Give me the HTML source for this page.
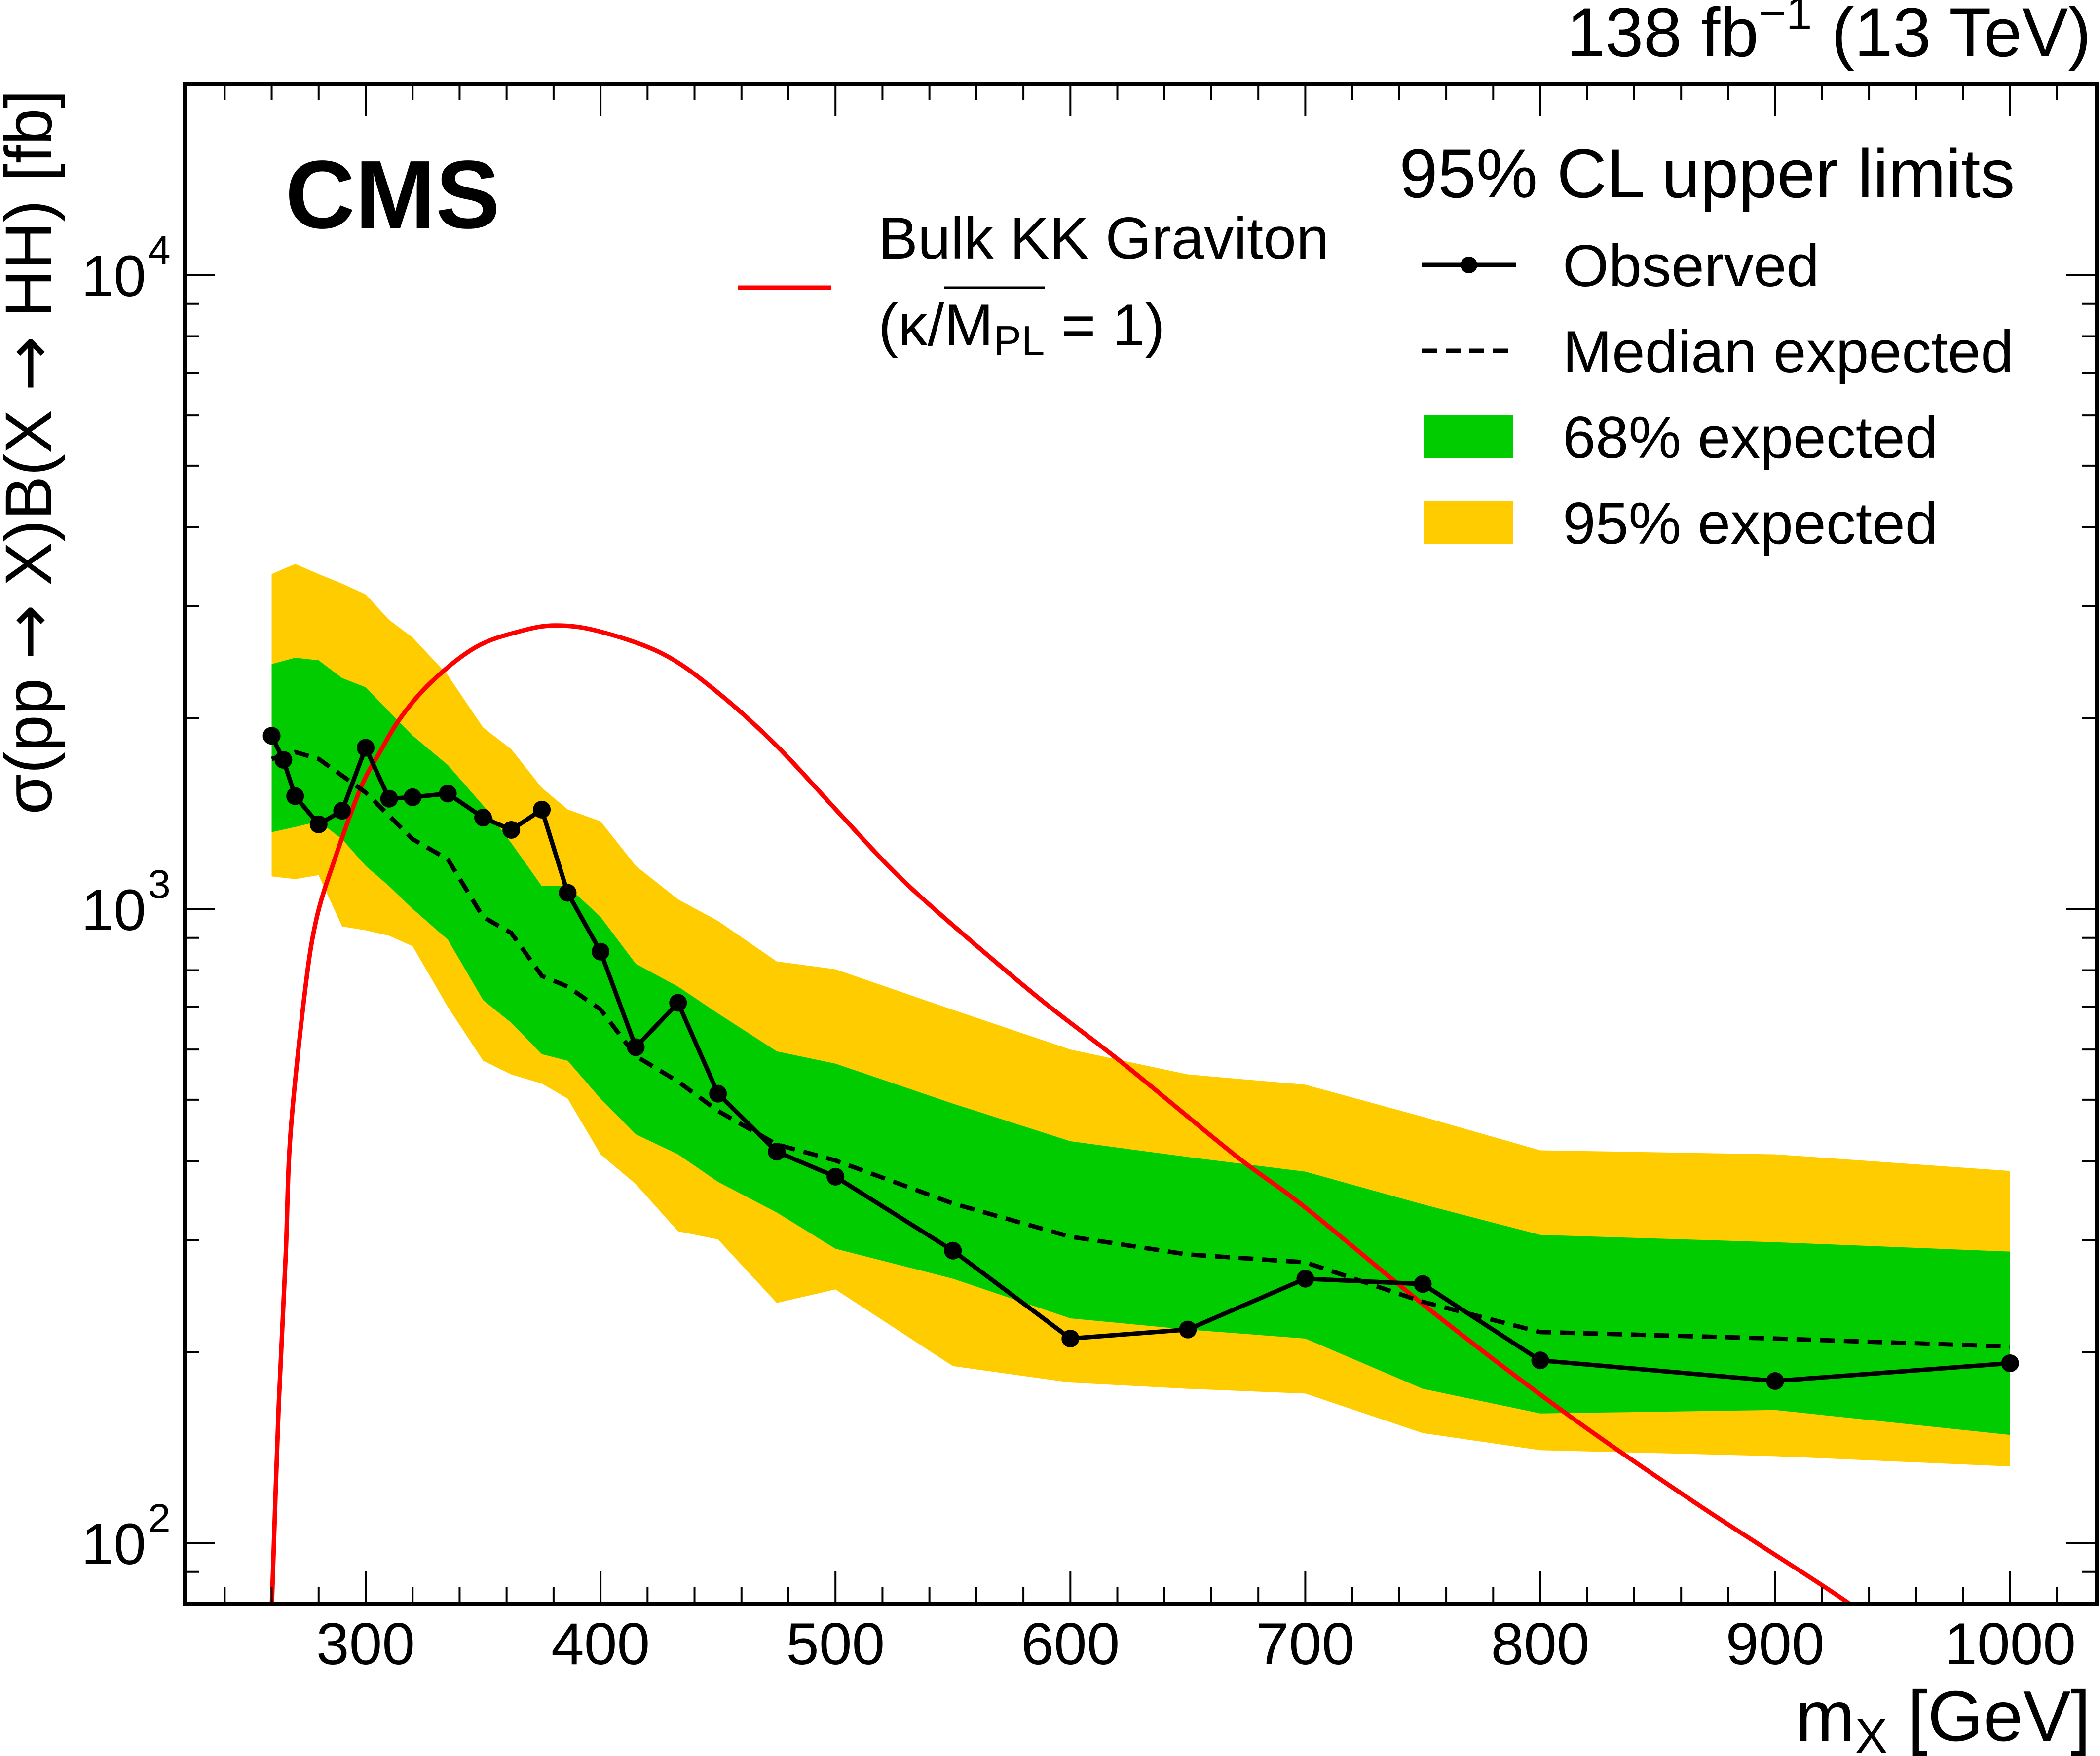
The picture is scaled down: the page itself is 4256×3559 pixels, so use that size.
<!DOCTYPE html>
<html><head><meta charset="utf-8"><style>
html,body{margin:0;padding:0;background:#fff;}
svg{display:block;font-family:"Liberation Sans",Arial,sans-serif;}
.ar{font-family:"DejaVu Sans",sans-serif;}
</style></head><body>
<svg id="chart" width="4256" height="3559" viewBox="0 0 4256 3559" xmlns="http://www.w3.org/2000/svg">
<defs><clipPath id="plotclip"><rect x="374" y="170" width="3875" height="3080"/></clipPath></defs>
<g id="bands" clip-path="url(#plotclip)"></g>
<g id="lines" clip-path="url(#plotclip)"></g>
<g id="axes"></g>
<text x="578" y="462" font-size="196" font-weight="bold">CMS</text>
<text x="4238" y="114" font-size="140" text-anchor="end">138 fb<tspan dy="-55" font-size="95">−1</tspan><tspan dy="55"> (13 TeV)</tspan></text>
<text x="4237" y="3528" font-size="145" text-anchor="end">m<tspan dy="25" font-size="100">X</tspan><tspan dy="-25"> [GeV]</tspan></text>
<text transform="translate(104,182) rotate(-90)" font-size="134" text-anchor="end">σ(pp <tspan class="ar">→</tspan> X)B(X <tspan class="ar">→</tspan> HH) [fb]</text>
<g>
<text x="2836" y="400" font-size="140">95% CL upper limits</text>
<line x1="2882" y1="537" x2="3072" y2="537" stroke="#000" stroke-width="9"/>
<circle cx="2977" cy="537" r="17" fill="#000"/>
<text x="3167" y="580" font-size="120">Observed</text>
<line x1="2882" y1="711" x2="3072" y2="711" stroke="#000" stroke-width="9" stroke-dasharray="30,18"/>
<text x="3167" y="754" font-size="120">Median expected</text>
<rect x="2885" y="841" width="182" height="87" fill="#00cc00"/>
<text x="3167" y="928" font-size="120">68% expected</text>
<rect x="2885" y="1015" width="182" height="87" fill="#ffcc00"/>
<text x="3167" y="1102" font-size="120">95% expected</text>
<line x1="1495" y1="583" x2="1685" y2="583" stroke="#ff0000" stroke-width="9"/>
<text x="1780" y="524" font-size="120">Bulk KK Graviton</text>
<text x="1780" y="700" font-size="120">(κ/M<tspan dy="20" font-size="85">PL</tspan><tspan dy="-20"> = 1)</tspan></text>
<line x1="1913" y1="583" x2="2117" y2="583" stroke="#000" stroke-width="5"/>
</g>
</svg>
<script>
const masses=[260,270,280,290,300,310,320,335,350,362,375,386,400,415,433,450,475,500,550,600,650,700,750,800,900,1000];
const band68Up=[2432,2489,2466,2312,2236,2048,1876,1686,1456,1270,1086,1086,971,819,754,684,596,570,493,430,406,385,342,306,298,288];
const band68Lo=[1321,1346,1374,1288,1169,1086,1000,894,718,661,590,576,502,441,410,371,332,291,261,226,217,210,175,160,162,148];
const band95Up=[3373,3499,3373,3258,3133,2856,2679,2336,1932,1786,1552,1435,1374,1169,1035,957,826,803,693,600,548,528,470,416,410,386];
const band95Lo=[1125,1114,1130,938,925,907,873,700,576,548,530,502,410,368,310,301,239,251,190,179,175,172,149,140,137,132];
const expMasses=[260,270,280,300,320,335,350,362,375,386,400,415,433,450,475,500,550,600,650,700,750,800,900,1000];
const expected=[1724,1767,1724,1526,1288,1197,971,916,784,754,694,586,534,480,425,401,343,304,285,277,240,215,210,204];
const obsMasses=[260,265,270,280,290,300,310,320,335,350,362,375,386,400,415,433,450,475,500,550,600,650,700,750,800,900,1000];
const observed=[1875,1718,1506,1359,1428,1795,1492,1500,1520,1393,1332,1434,1060,856,605,711,511,414,378,289,210,217,261,256,194,180,192];
const thMasses=[260,263,266,268,274,279,287,298,306,315,328,347,366,381,399,426,448,474,502,523,544,586,622,670,700,755,811,867,932,960];
const theory=[78,165,285,440,732,962,1202,1554,1765,2004,2280,2588,2742,2798,2742,2530,2223,1823,1410,1164,985,726,572,409,338,230,160,115,80,66];
const xTicks=[300,400,500,600,700,800,900,1000];
const yDecades=[2,3,4];

const X0=741, XS=4.761, Y3=1842, DEC=1285;
function xs(m){return X0+(m-300)*XS;}
function ys(v){return Y3-Math.log10(v/1000)*DEC;}
const NS="http://www.w3.org/2000/svg";
function mk(tag,parent,attrs){const e=document.createElementNS(NS,tag);for(const k in attrs)e.setAttribute(k,attrs[k]);parent.appendChild(e);return e;}
const bands=document.getElementById('bands'),lines=document.getElementById('lines'),axes=document.getElementById('axes');
function bandPath(up,lo){let d='';masses.forEach((m,i)=>{d+=(i?'L':'M')+xs(m)+','+ys(up[i]);});for(let i=masses.length-1;i>=0;i--)d+='L'+xs(masses[i])+','+ys(lo[i]);return d+'Z';}
function smoothPath(ms,vs){const p=ms.map((m,i)=>[xs(m),ys(vs[i])]);let d='M'+p[0][0]+','+p[0][1];
for(let i=0;i<p.length-1;i++){const p0=p[Math.max(0,i-1)],p1=p[i],p2=p[i+1],p3=p[Math.min(p.length-1,i+2)];
const c1=[p1[0]+(p2[0]-p0[0])/6,p1[1]+(p2[1]-p0[1])/6],c2=[p2[0]-(p3[0]-p1[0])/6,p2[1]-(p3[1]-p1[1])/6];
d+='C'+c1[0]+','+c1[1]+' '+c2[0]+','+c2[1]+' '+p2[0]+','+p2[1];}return d;}
const b95=mk('path',bands,{d:bandPath(band95Up,band95Lo),fill:'#ffcc00'});


const b68=mk('path',bands,{d:bandPath(band68Up,band68Lo),fill:'#00cc00'});


function pts(ms,vs){return ms.map((m,i)=>xs(m)+','+ys(vs[i])).join(' ');}
const th=mk('path',lines,{d:smoothPath(thMasses,theory),fill:'none',stroke:'#ff0000','stroke-width':9,'stroke-linejoin':'round'});


const ex=mk('polyline',lines,{points:pts(expMasses,expected),fill:'none',stroke:'#000','stroke-width':9,'stroke-dasharray':'30,18'});


const ob=mk('polyline',lines,{points:pts(obsMasses,observed),fill:'none',stroke:'#000','stroke-width':9,'stroke-linejoin':'round'});


obsMasses.forEach((m,i)=>{const c=mk('circle',lines,{cx:xs(m),cy:ys(observed[i]),r:18,fill:'#000'});

});
const fr=mk('rect',axes,{x:374,y:170,width:3875,height:3080,fill:'none',stroke:'#000','stroke-width':8});


for(let m=240;m<=1030;m+=20){const major=m%100===0;const L=major?66:33;
mk('line',axes,{x1:xs(m),y1:3250,x2:xs(m),y2:3250-L,stroke:'#000','stroke-width':4});
mk('line',axes,{x1:xs(m),y1:170,x2:xs(m),y2:170+L,stroke:'#000','stroke-width':4});}
xTicks.forEach(m=>{const t=mk('text',axes,{x:xs(m),y:3373,'font-size':120,'text-anchor':'middle'});t.textContent=m;

});
for(let e=1;e<=4;e++){for(let k=1;k<=9;k++){const v=k*Math.pow(10,e);const y=ys(v);if(y<172||y>3248)continue;const L=k===1?62:30;
mk('line',axes,{x1:374,y1:y,x2:374+L,y2:y,stroke:'#000','stroke-width':4});
mk('line',axes,{x1:4249,y1:y,x2:4249-L,y2:y,stroke:'#000','stroke-width':4});}}
yDecades.forEach(e=>{const y=ys(Math.pow(10,e));const t=mk('text',axes,{x:296,y:y+43,'font-size':118,'text-anchor':'end'});t.textContent='10';


const s=mk('text',axes,{x:300,y:y-22,'font-size':82});s.textContent=e;

});
</script>
</body></html>
